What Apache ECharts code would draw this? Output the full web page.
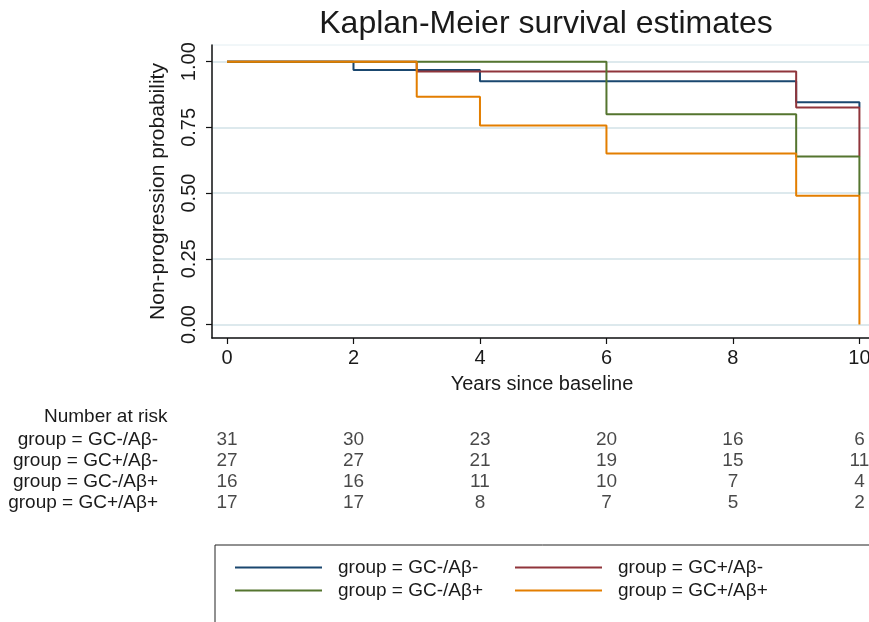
<!DOCTYPE html>
<html>
<head>
<meta charset="utf-8">
<script src="https://cdn.jsdelivr.net/npm/echarts@6/dist/echarts.min.js"></script>
<style>
html,body{margin:0;padding:0;background:#fff;}
#chart{width:869px;height:622px;}
</style>
</head>
<body>
<div id="chart"></div>
<script>
// ---- data ----
const groupNames = ['group = GC-/Aβ-', 'group = GC+/Aβ-', 'group = GC-/Aβ+', 'group = GC+/Aβ+'];
const groupColors = ['#1a476f', '#90353b', '#55752f', '#e37e00'];
// Kaplan-Meier step points: [time (years), survival after step]
const kmGcNegAbNeg = [[0, 1], [2, 0.968], [4, 0.926], [9, 0.846], [10, 0.826]];
const kmGcPosAbNeg = [[0, 1], [3, 0.963], [9, 0.826], [10, 0.639]];
const kmGcNegAbPos = [[0, 1], [6, 0.80], [9, 0.639], [10, 0.49]];
const kmGcPosAbPos = [[0, 1], [3, 0.867], [4, 0.757], [6, 0.651], [9, 0.49], [10, 0]];
const kmSeries = [kmGcNegAbNeg, kmGcPosAbNeg, kmGcNegAbPos, kmGcPosAbPos];
// number at risk
const riskTimes = [0, 2, 4, 6, 8, 10];
const riskGcNegAbNeg = [31, 30, 23, 20, 16, 6];
const riskGcPosAbNeg = [27, 27, 21, 19, 15, 11];
const riskGcNegAbPos = [16, 16, 11, 10, 7, 4];
const riskGcPosAbPos = [17, 17, 8, 7, 5, 2];
const riskRows = [riskGcNegAbNeg, riskGcPosAbNeg, riskGcNegAbPos, riskGcPosAbPos];
const xTicks = [0, 2, 4, 6, 8, 10];
const yTicks = [0, 0.25, 0.5, 0.75, 1];

const FONT = '"Liberation Sans", Arial, Helvetica, sans-serif';
const TXT = '#1a1a1a';
const X_MIN = -0.2373, X_MAX = 10.199;
const Y_MIN = -0.0514, Y_MAX = 1.0635;

const chart = echarts.init(document.getElementById('chart'), null, {renderer: 'canvas'});

const series = [];
kmSeries.forEach((d, i) => {
  series.push({
    name: groupNames[i], type: 'line', step: 'end', data: d,
    xAxisIndex: 0, yAxisIndex: 0,
    symbol: 'none', lineStyle: {color: groupColors[i], width: 2},
    itemStyle: {color: groupColors[i]}, z: 3 + i, animation: false
  });
});
riskRows.forEach((row, i) => {
  series.push({
    type: 'scatter', xAxisIndex: 1, yAxisIndex: 1, symbolSize: 0,
    data: row.map((v, j) => [riskTimes[j], i, v]),
    label: {show: true, position: 'inside', formatter: p => String(p.value[2]),
      fontFamily: FONT, fontSize: 19, color: TXT},
    silent: true, animation: false
  });
});

chart.setOption({
  backgroundColor: '#ffffff',
  animation: false,
  title: [
    {text: 'Kaplan-Meier survival estimates', left: 541, top: 3, textAlign: 'center',
     textStyle: {fontFamily: FONT, fontSize: 32, fontWeight: 'normal', color: TXT}},
    {text: 'Number at risk', left: 39, top: 402,
     textStyle: {fontFamily: FONT, fontSize: 19, fontWeight: 'normal', color: TXT}}
  ],
  grid: [
    {left: 212, width: 660, top: 45, height: 293, outerBoundsMode: 'none', containLabel: false,
     show: true, borderColor: '#e3eef2', borderWidth: 1, backgroundColor: '#fff'},
    {left: 212, width: 660, top: 429, height: 84, outerBoundsMode: 'none', containLabel: false}
  ],
  xAxis: [
    {type: 'value', gridIndex: 0, min: X_MIN, max: X_MAX,
     name: 'Years since baseline', nameLocation: 'middle', nameGap: 36,
     nameTextStyle: {fontFamily: FONT, fontSize: 20, color: TXT},
     axisLine: {show: true, onZero: false, lineStyle: {color: '#111', width: 1.5}},
     axisTick: {show: true, length: 6, customValues: xTicks, lineStyle: {color: '#111', width: 1.2}},
     axisLabel: {customValues: xTicks, fontFamily: FONT, fontSize: 20, color: TXT, margin: 10},
     splitLine: {show: false}},
    {type: 'value', gridIndex: 1, min: X_MIN, max: X_MAX, show: false}
  ],
  yAxis: [
    {type: 'value', gridIndex: 0, min: Y_MIN, max: Y_MAX,
     name: 'Non-progression probability', nameLocation: 'middle', nameGap: 43,
     nameTextStyle: {fontFamily: FONT, fontSize: 21, color: TXT},
     axisLine: {show: true, onZero: false, lineStyle: {color: '#111', width: 1.5}},
     axisTick: {show: true, length: 6, customValues: yTicks, lineStyle: {color: '#111', width: 1.2}},
     axisLabel: {customValues: yTicks, rotate: 90, fontFamily: FONT, fontSize: 20, color: TXT, margin: 13,
       formatter: v => v.toFixed(2)},
     splitLine: {show: true, lineStyle: {color: '#dde9ed', width: 2}}},
    {type: 'category', gridIndex: 1, data: groupNames, inverse: true,
     axisLine: {show: false}, axisTick: {show: false},
     axisLabel: {interval: 0, fontFamily: FONT, fontSize: 19, color: TXT, margin: 54}}
  ],
  legend: {
    data: groupNames, left: 215, top: 545, width: 600,
    orient: 'horizontal', itemWidth: 87, itemHeight: 2, itemGap: 4,
    icon: 'rect',
    padding: [13, 200, 40, 20],
    borderColor: '#222', borderWidth: 1,
    textStyle: {fontFamily: FONT, fontSize: 19, color: TXT, lineHeight: 19,
      width: 173, overflow: 'truncate', padding: [0, 0, 0, 11]}
  },
  series: series
});
</script>
</body>
</html>
